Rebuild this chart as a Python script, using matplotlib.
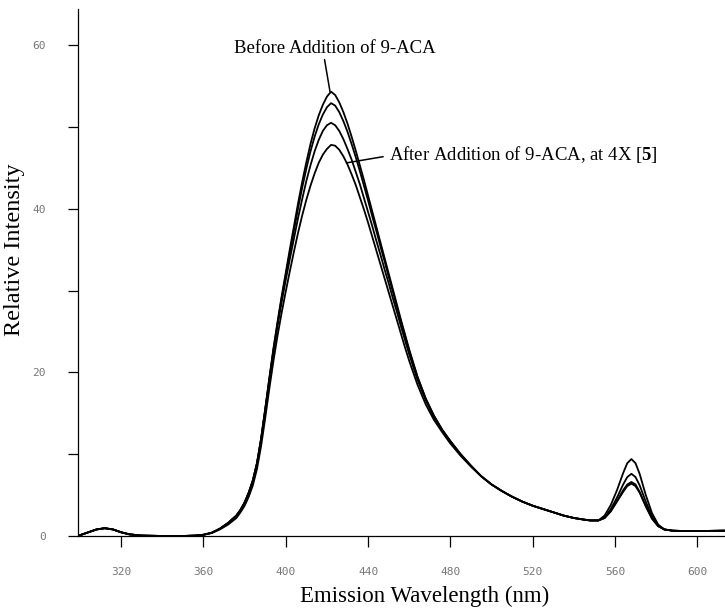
import matplotlib
matplotlib.use("Agg")
import matplotlib.pyplot as plt

# emission spectra, relative intensity vs wavelength (nm)
wavelength = [300, 304, 308, 312, 316, 320, 324, 330, 340, 350,
              356, 360, 364, 368, 372, 376, 378, 380, 382, 384,
              386, 388, 390, 392, 394, 396, 398, 400, 402, 404,
              406, 408, 410, 412, 414, 416, 418, 420, 422, 424,
              426, 428, 430, 432, 434, 436, 438, 440, 442, 444,
              446, 448, 450, 452, 454, 456, 458, 460, 464, 468,
              472, 476, 480, 485, 490, 495, 500, 505, 510, 515,
              520, 525, 530, 535, 540, 545, 548, 552, 555, 558,
              561, 564, 566, 568, 570, 572, 575, 578, 581, 584,
              588, 594, 600, 613]

before = [0.1, 0.45, 0.8, 0.95, 0.8, 0.45, 0.2, 0.05, 0.0, 0.0,
          0.05, 0.15, 0.4, 0.9, 1.6, 2.5, 3.2, 4.1, 5.3, 6.8,
          8.9, 11.9, 15.5, 19.3, 22.9, 26.2, 29.3, 32.2, 35.1, 37.9,
          40.7, 43.3, 45.7, 47.9, 49.8, 51.4, 52.7, 53.7, 54.3, 53.9,
          53.0, 51.8, 50.4, 48.8, 47.1, 45.3, 43.5, 41.6, 39.7, 37.8,
          35.9, 34.0, 32.1, 30.2, 28.3, 26.4, 24.6, 22.8, 19.5, 16.8,
          14.7, 13.0, 11.6, 10.0, 8.6, 7.3, 6.3, 5.5, 4.8, 4.2,
          3.7, 3.3, 2.9, 2.5, 2.2, 2.0, 1.9, 1.9, 2.5, 3.8,
          5.6, 7.7, 8.9, 9.4, 8.9, 7.6, 5.0, 2.8, 1.4, 0.8,
          0.65, 0.6, 0.6, 0.65]

step_1 = [0.1, 0.45, 0.8, 0.95, 0.8, 0.45, 0.2, 0.05, 0.0, 0.0,
          0.05, 0.15, 0.4, 0.9, 1.6, 2.5, 3.2, 4.1, 5.3, 6.8,
          8.9, 11.9, 15.5, 19.2, 22.8, 26.0, 29.1, 31.9, 34.7, 37.4,
          40.1, 42.6, 44.9, 47.0, 48.8, 50.3, 51.5, 52.4, 52.9, 52.6,
          51.8, 50.7, 49.4, 47.9, 46.3, 44.6, 42.8, 41.0, 39.1, 37.3,
          35.4, 33.6, 31.7, 29.9, 28.0, 26.2, 24.4, 22.6, 19.4, 16.8,
          14.7, 13.0, 11.6, 10.0, 8.6, 7.3, 6.3, 5.5, 4.8, 4.2,
          3.7, 3.3, 2.9, 2.5, 2.2, 2.0, 1.9, 1.9, 2.3, 3.3,
          4.7, 6.3, 7.2, 7.6, 7.2, 6.2, 4.2, 2.4, 1.3, 0.8,
          0.65, 0.6, 0.6, 0.65]

step_2 = [0.1, 0.45, 0.8, 0.95, 0.8, 0.45, 0.2, 0.05, 0.0, 0.0,
          0.05, 0.15, 0.4, 0.9, 1.6, 2.5, 3.2, 4.1, 5.3, 6.8,
          8.9, 11.8, 15.4, 19.0, 22.5, 25.7, 28.6, 31.3, 33.9, 36.4,
          38.9, 41.2, 43.4, 45.3, 47.0, 48.4, 49.5, 50.2, 50.5, 50.2,
          49.5, 48.5, 47.3, 46.0, 44.5, 43.0, 41.3, 39.6, 37.9, 36.1,
          34.4, 32.6, 30.9, 29.1, 27.4, 25.6, 23.9, 22.2, 19.1, 16.6,
          14.5, 12.9, 11.5, 9.9, 8.5, 7.3, 6.3, 5.5, 4.8, 4.2,
          3.7, 3.3, 2.9, 2.5, 2.2, 2.0, 1.9, 1.9, 2.2, 3.1,
          4.3, 5.6, 6.3, 6.6, 6.3, 5.4, 3.7, 2.2, 1.2, 0.8,
          0.65, 0.6, 0.6, 0.65]

after_4x = [0.1, 0.45, 0.8, 0.95, 0.8, 0.45, 0.2, 0.05, 0.0, 0.0,
            0.05, 0.15, 0.35, 0.8, 1.4, 2.2, 2.9, 3.7, 4.8, 6.2,
            8.2, 11.0, 14.4, 18.0, 21.4, 24.5, 27.3, 29.9, 32.4, 34.8,
            37.1, 39.2, 41.1, 42.8, 44.3, 45.6, 46.6, 47.3, 47.8, 47.7,
            47.2, 46.4, 45.4, 44.2, 42.9, 41.4, 39.9, 38.3, 36.6, 34.9,
            33.2, 31.5, 29.8, 28.1, 26.4, 24.7, 23.0, 21.4, 18.5, 16.1,
            14.2, 12.7, 11.3, 9.8, 8.5, 7.3, 6.3, 5.5, 4.8, 4.2,
            3.7, 3.3, 2.9, 2.5, 2.2, 2.0, 1.9, 1.9, 2.2, 3.0,
            4.2, 5.4, 6.1, 6.4, 6.1, 5.3, 3.6, 2.1, 1.2, 0.8,
            0.65, 0.6, 0.6, 0.65]

x_ticks = [320, 360, 400, 440, 480, 520, 560, 600]
y_ticks = [0, 20, 40, 60]
y_minor = [10, 30, 50]

plt.rcParams['mathtext.fontset'] = 'custom'
plt.rcParams['mathtext.rm'] = 'Liberation Serif'
plt.rcParams['mathtext.bf'] = 'Liberation Serif:bold'

fig = plt.figure(figsize=(7.25, 6.12), dpi=100)
ax = fig.add_axes([0.1076, 0.1242, 0.8924, 0.861])

for serie in (before, step_1, step_2, after_4x):
    ax.plot(wavelength, serie, color='black', lw=1.3, solid_joinstyle='round')

ax.set_xlim(299, 613.5)
ax.set_ylim(0, 64.4)

ax.spines['top'].set_visible(False)
ax.spines['right'].set_visible(False)
for lado in ('left', 'bottom'):
    ax.spines[lado].set_linewidth(0.9)

ax.set_xticks(x_ticks)
ax.set_yticks(y_ticks)
ax.set_yticks(y_minor, minor=True)
ax.tick_params(axis='x', direction='out', length=8, width=0.9, pad=14,
               labelsize=8, labelcolor='#777777')
ax.tick_params(axis='y', which='both', direction='out', length=7, width=0.9,
               pad=16, labelsize=8, labelcolor='#777777')
for etiqueta in ax.get_xticklabels() + ax.get_yticklabels():
    etiqueta.set_family('DejaVu Sans Mono')

ax.set_xlabel('Emission Wavelength (nm)', family='Liberation Serif', fontsize=16.5)
ax.set_ylabel('Relative Intensity', family='Liberation Serif', fontsize=17.5)
ax.xaxis.set_label_coords(0.536, -0.095)
ax.yaxis.set_label_coords(-0.082, 0.543)

# notas sobre las curvas
ax.annotate('Before Addition of 9-ACA', xy=(421.5, 54.3), xytext=(424, 59.6),
            ha='center', va='center', family='Liberation Serif', fontsize=13.5,
            arrowprops=dict(arrowstyle='-', lw=1.1, color='black',
                            relpos=(0.445, 0.0), shrinkA=0, shrinkB=0))
ax.annotate(r'After Addition of 9-ACA, at 4X [$\mathbf{5}$]',
            xy=(429.5, 45.6), xytext=(450, 46.6),
            ha='left', va='center', family='Liberation Serif', fontsize=13.5,
            arrowprops=dict(arrowstyle='-', lw=1.1, color='black',
                            relpos=(0.0, 0.45), shrinkA=2, shrinkB=0))

fig.savefig('out.png', dpi=100)
